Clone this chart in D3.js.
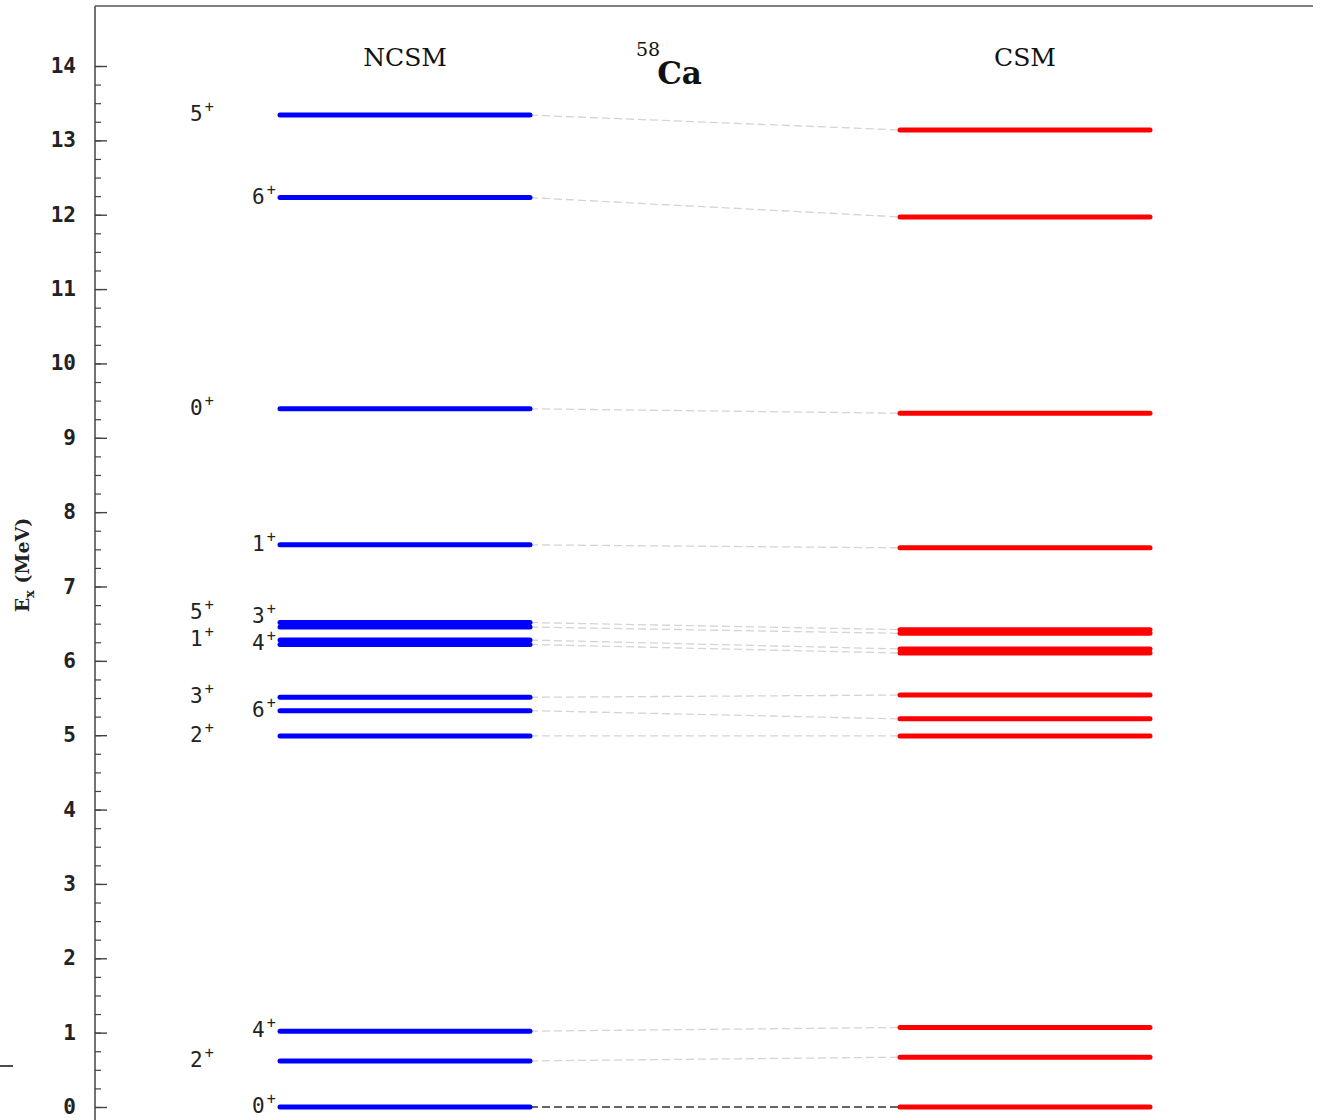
<!DOCTYPE html>
<html>
<head>
<meta charset="utf-8">
<script src="https://cdn.jsdelivr.net/npm/d3@7/dist/d3.min.js"></script>
<style>
  html, body { margin: 0; padding: 0; background: #fff; }
  svg { display: block; }
</style>
</head>
<body>
<svg id="chart" width="1320" height="1120"></svg>
<script>
// Excitation spectrum of 58Ca: no-core shell model vs. conventional shell model
const nucleusSymbol = "Ca";
const massNumber = "58";
const models = ["NCSM", "CSM"];

// Spin and parity of each level, in ascending NCSM energy order
const levelJ = [0, 2, 4, 2, 6, 3, 4, 1, 3, 5, 1, 0, 6, 5];
const levelParity = ["+", "+", "+", "+", "+", "+", "+", "+", "+", "+", "+", "+", "+", "+"];

// Excitation energies (MeV)
const ncsmEnergy = [0.00, 0.62, 1.02, 4.99, 5.33, 5.51, 6.22, 6.28, 6.455, 6.515, 7.56, 9.39, 12.23, 13.34];
const csmEnergy  = [0.00, 0.67, 1.07, 4.99, 5.22, 5.54, 6.105, 6.16, 6.37, 6.42, 7.52, 9.33, 11.97, 13.14];

// Axis ticks
const majorTicks = [0, 1, 2, 3, 4, 5, 6, 7, 8, 9, 10, 11, 12, 13, 14];
const minorTicks = d3.range(0, 14.001, 0.25);

const svg = d3.select("#chart");
const W = 1320, H = 1120;
const axisX = 95, frameTop = 6;
const y = d3.scaleLinear().domain([0, 14]).range([1107, 66]);
const x = d3.scalePoint().domain(models).range([405, 1025]);
const halfLen = 125;
const colors = { NCSM: "#0000ff", CSM: "#ff0000" };

const monoSans = "'DejaVu Sans Mono', monospace";
const slabSerif = "'DejaVu Serif', serif";

// Frame: left axis and top border
svg.append("line").attr("x1", axisX).attr("x2", axisX).attr("y1", frameTop).attr("y2", H)
  .attr("stroke", "#444").attr("stroke-width", 1.5);
svg.append("line").attr("x1", axisX).attr("x2", 1313).attr("y1", frameTop).attr("y2", frameTop)
  .attr("stroke", "#555").attr("stroke-width", 1.5);

// Small stray mark at the left edge
svg.append("line").attr("x1", 0).attr("x2", 13).attr("y1", 1066).attr("y2", 1066)
  .attr("stroke", "#111").attr("stroke-width", 1.5);

// Minor ticks (inside the frame)
const minorAxis = d3.axisRight(y).tickValues(minorTicks).tickSize(6).tickFormat("");
const gMinor = svg.append("g").attr("transform", `translate(${axisX},0)`).call(minorAxis);
gMinor.select(".domain").remove();
gMinor.selectAll(".tick line").attr("stroke", "#444").attr("stroke-width", 1.2);

// Major ticks
const majorAxis = d3.axisRight(y).tickValues(majorTicks).tickSize(12).tickFormat("");
const gMajor = svg.append("g").attr("transform", `translate(${axisX},0)`).call(majorAxis);
gMajor.select(".domain").remove();
gMajor.selectAll(".tick line").attr("stroke", "#444").attr("stroke-width", 1.4);

// Tick labels
svg.append("g").selectAll("text").data(majorTicks).join("text")
  .attr("x", 76).attr("y", d => y(d))
  .attr("text-anchor", "end").attr("dominant-baseline", "central")
  .attr("font-family", monoSans).attr("font-size", 21).attr("font-weight", "bold")
  .attr("fill", "#222")
  .text(d => d);

// Y axis title
const yTitle = svg.append("text")
  .attr("transform", "translate(29,565) rotate(-90)")
  .attr("text-anchor", "middle")
  .attr("font-family", slabSerif).attr("font-size", 19).attr("font-weight", "bold")
  .attr("fill", "#222");
yTitle.append("tspan").text("E");
yTitle.append("tspan").attr("font-size", 13).attr("dy", 5).text("x");
yTitle.append("tspan").attr("dy", -5).text(" (MeV)");

// Model headers
svg.append("g").selectAll("text").data(models).join("text")
  .attr("x", d => x(d)).attr("y", 66)
  .attr("text-anchor", "middle")
  .attr("font-family", slabSerif).attr("font-size", 25)
  .attr("fill", "#111")
  .text(d => d);

// Nucleus label
const nuc = svg.append("text").attr("x", 636).attr("y", 84)
  .attr("font-family", slabSerif).attr("fill", "#111");
nuc.append("tspan").attr("font-size", 19).attr("dy", -28).text(massNumber);
nuc.append("tspan").attr("font-size", 31).attr("font-weight", "bold").attr("dy", 28).attr("dx", -3).text(nucleusSymbol);

// Connectors between matching levels
const pairs = ncsmEnergy.map((e, i) => ({ a: e, b: csmEnergy[i], i }));
svg.append("g").selectAll("line").data(pairs).join("line")
  .attr("x1", x("NCSM") + halfLen).attr("x2", x("CSM") - halfLen)
  .attr("y1", d => y(d.a)).attr("y2", d => y(d.b))
  .attr("stroke", d => d.a === 0 ? "#333" : "#d4d4d4")
  .attr("stroke-width", 1.3)
  .attr("stroke-dasharray", "8,4");

// Level lines
const levels = [];
ncsmEnergy.forEach((e, i) => levels.push({ model: "NCSM", e, i }));
csmEnergy.forEach((e, i) => levels.push({ model: "CSM", e, i }));
svg.append("g").selectAll("line").data(levels).join("line")
  .attr("x1", d => x(d.model) - halfLen).attr("x2", d => x(d.model) + halfLen)
  .attr("y1", d => y(d.e)).attr("y2", d => y(d.e))
  .attr("stroke", d => colors[d.model])
  .attr("stroke-width", 5)
  .attr("stroke-linecap", "round");

// Spin labels for the NCSM levels: alternate between two columns,
// then push labels apart within each column so they don't collide.
const labelCols = [252, 190];
const minGap = 27;
const labels = ncsmEnergy.map((e, i) => ({
  i, col: i % 2, ty: y(e) - 1
}));
[0, 1].forEach(c => {
  const inCol = labels.filter(l => l.col === c).sort((a, b) => b.ty - a.ty);
  for (let k = 1; k < inCol.length; k++) {
    if (inCol[k - 1].ty - inCol[k].ty < minGap) inCol[k].ty = inCol[k - 1].ty - minGap;
  }
});
const lab = svg.append("g").selectAll("text").data(labels).join("text")
  .attr("x", d => labelCols[d.col]).attr("y", d => d.ty)
  .attr("dominant-baseline", "central")
  .attr("font-family", monoSans).attr("font-size", 21)
  .attr("fill", "#222");
lab.append("tspan").text(d => levelJ[d.i]);
lab.append("tspan").attr("font-size", 15).attr("dy", -7).attr("dx", 2).text(d => levelParity[d.i]);
</script>
</body>
</html>
